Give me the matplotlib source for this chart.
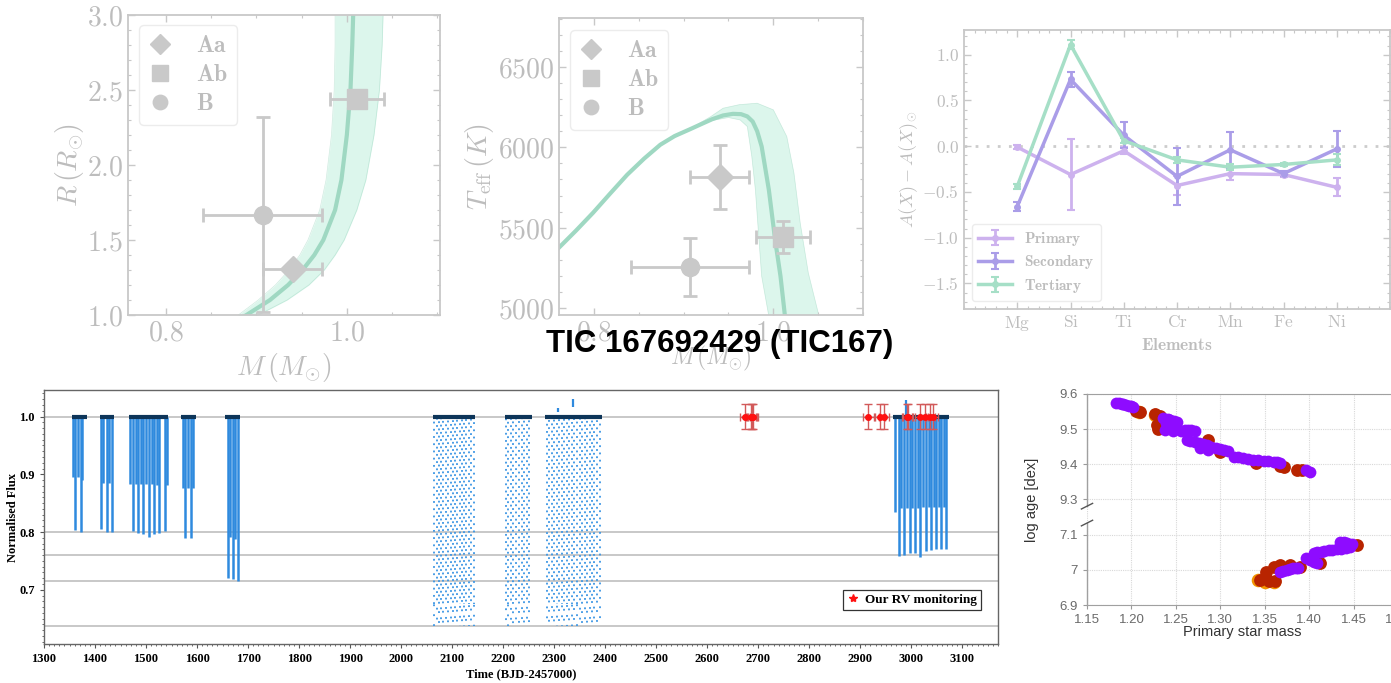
import numpy as np
import matplotlib
matplotlib.use("Agg")
import matplotlib.pyplot as plt
from matplotlib.lines import Line2D
from matplotlib.patches import Polygon
from matplotlib.ticker import FuncFormatter, MultipleLocator, AutoMinorLocator

plt.rcParams["mathtext.fontset"] = "cm"
plt.rcParams["font.family"] = "DejaVu Serif"

W, H = 1391, 683

COLORS = {
    "spine":  "#c8c8c8",
    "text":   "#bdbdbd",
    "marker": "#c9c9c9",
    "iso":    "#9fd8c2",
    "band":   "#dcf6ec",
    "prim":   "#cdb2ee",
    "sec":    "#aa9de8",
    "ter":    "#a6dfc7",
    "flux":   "#2f8ade",
    "dots":   "#3a95e4",
    "base":   "#0d3559",
    "rv":     "#ff1010",
    "rv_err": "#d25a5a",
    "purple": "#8e0cff",
    "red":    "#b82400",
    "orange": "#f29400",
}

# ---- components of the triple (mass, radius, Teff) ----
comp_labels = ["Aa", "Ab", "B"]
comp_markers = ["D", "s", "o"]
comp_msize = [13, 15, 13]
comp_mass = [0.940, 1.011, 0.907]
comp_mass_err = [0.033, 0.030, 0.066]
comp_radius = [1.31, 2.44, 1.67]
comp_radius_err = [0.0, 0.0, 0.65]
comp_teff = [5817, 5444, 5258]
comp_teff_err = [200, 100, 180]

# isochrone in the mass-radius plane: best fit and envelope
iso_r = [0.95, 1.0, 1.1, 1.2, 1.3, 1.4, 1.5, 1.7, 1.9, 2.2, 2.5, 2.8, 3.0]
iso_r_mass = [0.874, 0.889, 0.915, 0.935, 0.951, 0.964, 0.974, 0.987, 0.994, 1.000, 1.004, 1.006, 1.007]
iso_r_lo = [0.866, 0.880, 0.902, 0.921, 0.936, 0.948, 0.957, 0.970, 0.977, 0.983, 0.986, 0.987, 0.987]
iso_r_hi = [0.888, 0.902, 0.934, 0.958, 0.975, 0.987, 0.997, 1.011, 1.021, 1.030, 1.036, 1.039, 1.040]

# isochrone in the mass-Teff plane
iso_t_mass = [0.761, 0.780, 0.799, 0.818, 0.837, 0.856, 0.874, 0.890, 0.907, 0.920,
              0.932, 0.944, 0.955, 0.964, 0.971, 0.977, 0.982, 0.987, 0.995, 1.002, 1.008, 1.013]
iso_t_teff = [5376, 5482, 5593, 5712, 5829, 5930, 6016, 6070, 6112, 6145,
              6175, 6198, 6208, 6206, 6192, 6160, 6100, 6005, 5736, 5425, 5198, 4949]
iso_t_lo_mass = [0.761, 0.799, 0.837, 0.874, 0.907, 0.930, 0.950, 0.963, 0.971, 0.976, 0.980, 0.984, 0.987, 0.995]
iso_t_lo_teff = [5376, 5593, 5829, 6016, 6109, 6165, 6185, 6170, 6129, 5943, 5736, 5425, 5198, 4949]
iso_t_hi_mass = [0.761, 0.799, 0.837, 0.874, 0.907, 0.930, 0.944, 0.962, 0.982, 1.000, 1.015, 1.023, 1.030, 1.039, 1.051]
iso_t_hi_teff = [5376, 5593, 5829, 6016, 6115, 6190, 6243, 6265, 6274, 6233, 6067, 5840, 5529, 5219, 4949]

# ---- abundances relative to solar ----
elements = ["Mg", "Si", "Ti", "Cr", "Mn", "Fe", "Ni"]
ab_primary = [-0.01, -0.31, -0.05, -0.43, -0.30, -0.31, -0.45]
ab_primary_err = [0.02, 0.39, 0.04, 0.10, 0.07, 0.03, 0.10]
ab_secondary = [-0.66, 0.73, 0.12, -0.33, -0.04, -0.30, -0.03]
ab_secondary_err = [0.05, 0.08, 0.14, 0.31, 0.20, 0.03, 0.20]
ab_tertiary = [-0.44, 1.11, 0.06, -0.15, -0.23, -0.20, -0.15]
ab_tertiary_err = [0.03, 0.05, 0.03, 0.03, 0.03, 0.02, 0.06]

# ---- TESS light curve ----
seg_start = [1354, 1410, 1467, 1569, 1654, 2063, 2204, 2282, 2965]
seg_end = [1384, 1437, 1544, 1597, 1684, 2145, 2256, 2393, 3073]

# eclipses resolved in short cadence (time, minimum flux)
ecl_t = [1356.2, 1360.8, 1366.0, 1371.9, 1375.1,
         1411.8, 1416.3, 1422.9, 1428.0, 1433.3,
         1468.6, 1473.9, 1479.8, 1484.3, 1489.6, 1494.7, 1500.0, 1505.9,
         1511.2, 1515.7, 1521.0, 1525.5, 1536.6, 1540.5,
         1572.0, 1576.5, 1583.0, 1587.6, 1592.7,
         1660.0, 1664.7, 1670.0, 1674.5, 1679.8,
         2968.6, 2975.1, 2979.8, 2986.3, 2991.6, 2996.7, 3001.9, 3007.8, 3013.1, 3017.6,
         3022.9, 3028.8, 3033.9, 3038.6, 3043.7, 3048.4, 3053.5, 3058.8, 3063.3, 3068.0]
ecl_f = [0.895, 0.803, 0.895, 0.800, 0.890,
         0.806, 0.885, 0.800, 0.885, 0.800,
         0.883, 0.802, 0.883, 0.798, 0.883, 0.796, 0.883, 0.792,
         0.883, 0.796, 0.881, 0.798, 0.802, 0.881,
         0.876, 0.789, 0.876, 0.789, 0.876,
         0.721, 0.792, 0.718, 0.788, 0.715,
         0.835, 0.759, 0.842, 0.761, 0.842, 0.763, 0.842, 0.764, 0.842, 0.756,
         0.843, 0.767, 0.843, 0.768, 0.843, 0.770, 0.843, 0.770, 0.843, 0.771]

# eclipses sampled only sparsely (long cadence): columns of single points
dot_t = [2065, 2070, 2074, 2079, 2083, 2088, 2092, 2097, 2101, 2106, 2110, 2115,
         2119, 2124, 2128, 2133, 2137, 2142,
         2205.2, 2210.4, 2215.0, 2220.2, 2225.5, 2231.4, 2236.6, 2241.8, 2246.4, 2251.6,
         2285.6, 2290.8, 2295.4, 2300.0, 2305.2, 2309.8, 2315.0, 2319.6, 2324.8, 2329.4,
         2334.6, 2339.2, 2344.4, 2349.7, 2354.2, 2359.5, 2364.0, 2369.3, 2373.9, 2378.4,
         2383.7, 2388.9]
dot_dense_min = 0.675
dot_floor = 0.637

# isolated outliers above the baseline
spike_t = [2308, 2337, 2990]
spike_lo = [1.008, 1.017, 1.002]
spike_hi = [1.015, 1.031, 1.029]

# reference flux levels
flux_levels = [1.0, 0.8, 0.761, 0.716, 0.637]

# RV epochs
rv_t = [2674, 2686, 2688, 2690, 2916, 2938, 2947, 2991, 2994, 3018, 3027, 3037, 3042]
rv_f = [1.0] * len(rv_t)
rv_terr = 10
rv_ferr = 0.021

# ---- age solutions vs primary mass ----
pur_m = [1.183, 1.186, 1.189, 1.191, 1.194, 1.197, 1.200, 1.202,
         1.236, 1.241, 1.243, 1.248, 1.251, 1.239, 1.245, 1.238, 1.247, 1.256, 1.260,
         1.264, 1.267, 1.271,
         1.262, 1.266, 1.271, 1.276, 1.281, 1.285, 1.290, 1.295, 1.300, 1.304, 1.309,
         1.277, 1.286,
         1.315, 1.320, 1.326, 1.331, 1.337, 1.343, 1.349, 1.354, 1.360, 1.364, 1.367,
         1.397, 1.401,
         1.367, 1.371, 1.375, 1.378, 1.382, 1.385, 1.388,
         1.397, 1.401, 1.405, 1.409,
         1.405, 1.409, 1.413, 1.417, 1.422, 1.426, 1.431, 1.436, 1.441,
         1.435, 1.439, 1.443, 1.446, 1.448]
pur_age = [9.575, 9.574, 9.572, 9.571, 9.569, 9.567, 9.566, 9.562,
           9.531, 9.528, 9.526, 9.524, 9.521, 9.517, 9.507, 9.498, 9.496, 9.496, 9.497,
           9.498, 9.497, 9.496,
           9.469, 9.466, 9.464, 9.461, 9.458, 9.454, 9.450, 9.447, 9.443, 9.440, 9.438,
           9.446, 9.441,
           9.422, 9.420, 9.417, 9.414, 9.412, 9.411, 9.410, 9.409, 9.408, 9.406, 9.405,
           9.384, 9.379,
           6.995, 6.998, 7.000, 7.002, 7.004, 7.004, 7.004,
           7.033, 7.028, 7.023, 7.019,
           7.047, 7.050, 7.052, 7.054, 7.056, 7.057, 7.058, 7.060, 7.061,
           7.080, 7.079, 7.077, 7.066, 7.074]
red_m = [1.205, 1.210, 1.227, 1.232, 1.229, 1.234, 1.230, 1.286, 1.367, 1.372, 1.386, 1.392,
         1.352, 1.360, 1.367, 1.379, 1.390, 1.345, 1.355, 1.362, 1.412, 1.454, 1.300, 1.340]
red_age = [9.552, 9.548, 9.543, 9.537, 9.512, 9.502, 9.500, 9.468, 9.395, 9.392, 9.384, 9.384,
           6.995, 7.009, 7.014, 7.014, 7.009, 6.972, 6.967, 6.968, 7.020, 7.071, 9.436, 9.405]
org_m = [1.208, 1.226, 1.343, 1.350, 1.360, 1.233]
org_age = [9.550, 9.540, 6.971, 6.966, 6.966, 9.520]

age_ticks = [6.9, 7.0, 7.1, 9.3, 9.4, 9.5, 9.6]
age_tick_labels = ["6.9", "7", "7.1", "9.3", "9.4", "9.5", "9.6"]
AGE_SHIFT = 2.1   # old branch drawn just above the young one


def age_to_axis(a):
    a = np.asarray(a, float)
    return np.where(a > 8, a - AGE_SHIFT, a)


fig = plt.figure(figsize=(W / 100, H / 100), dpi=100)


def add_px_axes(left, top, right, bottom):
    return fig.add_axes([left / W, 1 - bottom / H, (right - left) / W, (bottom - top) / H])


def faint_frame(ax, size):
    for sp in ax.spines.values():
        sp.set_color(COLORS["spine"])
        sp.set_linewidth(1.3)
    ax.tick_params(which="both", direction="in", top=True, right=True,
                   color=COLORS["spine"], labelcolor=COLORS["text"], labelsize=size)
    ax.tick_params(which="major", length=5, width=1.0)
    ax.tick_params(which="minor", length=2.5, width=0.8)


def math_fmt(fmt):
    return FuncFormatter(lambda v, p: "$" + format(v, fmt) + "$")


def comp_legend(ax, anchor):
    handles = [Line2D([], [], marker=m, ls="none", color=COLORS["marker"], ms=s * 0.8)
               for m, s in zip(comp_markers, comp_msize)]
    labels = [r"$\mathbf{%s}$" % c for c in comp_labels]
    leg = ax.legend(handles, labels, loc="upper left", bbox_to_anchor=anchor,
                    borderaxespad=0, fontsize=17, labelspacing=0.25, handlelength=1.0,
                    handletextpad=1.0, borderpad=0.4, edgecolor="#ececec", framealpha=1)
    for t in leg.get_texts():
        t.set_color(COLORS["text"])
    return leg


# ============================================================
# Mass-radius diagram
ax1 = add_px_axes(128, 15, 440, 315)
ax1.fill_betweenx(iso_r, iso_r_lo, iso_r_hi, color=COLORS["band"], lw=0, zorder=1)
ax1.plot(iso_r_lo, iso_r, color=COLORS["iso"], lw=0.5, alpha=0.5, zorder=1)
ax1.plot(iso_r_hi, iso_r, color=COLORS["iso"], lw=0.5, alpha=0.5, zorder=1)
ax1.plot(iso_r_mass, iso_r, color=COLORS["iso"], lw=3, zorder=2)
for i in range(3):
    ax1.errorbar(comp_mass[i], comp_radius[i], xerr=comp_mass_err[i], yerr=comp_radius_err[i],
                 fmt=comp_markers[i], ms=comp_msize[i], color=COLORS["marker"],
                 ecolor=COLORS["marker"], elinewidth=2, capsize=5, capthick=2, zorder=3)
ax1.set_xlim(0.758, 1.103)
ax1.set_ylim(1.0, 3.0)
ax1.xaxis.set_major_locator(MultipleLocator(0.2))
ax1.xaxis.set_minor_locator(MultipleLocator(0.05))
ax1.yaxis.set_major_locator(MultipleLocator(0.5))
ax1.yaxis.set_minor_locator(MultipleLocator(0.1))
ax1.xaxis.set_major_formatter(math_fmt(".1f"))
ax1.yaxis.set_major_formatter(math_fmt(".1f"))
faint_frame(ax1, 20)
ax1.set_xlabel(r"$M\,(M_{\odot})$", fontsize=20, color=COLORS["text"])
ax1.set_ylabel(r"$R\,(R_{\odot})$", fontsize=20, color=COLORS["text"])
ax1.xaxis.set_label_coords(0.5, -0.175)
ax1.xaxis.label.set_va("center")
ax1.yaxis.set_label_coords(-0.186, 0.5)
ax1.yaxis.label.set_va("center")
comp_legend(ax1, (0.035, 0.967))

# ---- Mass-Teff diagram ----------------------------------------
ax2 = add_px_axes(559, 18, 863, 315)
band = Polygon(np.column_stack([iso_t_lo_mass + iso_t_hi_mass[::-1],
                                iso_t_lo_teff + iso_t_hi_teff[::-1]]),
               closed=True, facecolor=COLORS["band"], edgecolor="none", zorder=1)
ax2.add_patch(band)
ax2.plot(iso_t_lo_mass, iso_t_lo_teff, color=COLORS["iso"], lw=0.5, alpha=0.5, zorder=1)
ax2.plot(iso_t_hi_mass, iso_t_hi_teff, color=COLORS["iso"], lw=0.5, alpha=0.5, zorder=1)
ax2.plot(iso_t_mass, iso_t_teff, color=COLORS["iso"], lw=3, zorder=2)
for i in range(3):
    ax2.errorbar(comp_mass[i], comp_teff[i], xerr=comp_mass_err[i], yerr=comp_teff_err[i],
                 fmt=comp_markers[i], ms=comp_msize[i], color=COLORS["marker"],
                 ecolor=COLORS["marker"], elinewidth=2, capsize=5, capthick=2, zorder=3)
ax2.set_xlim(0.761, 1.10)
ax2.set_ylim(4957, 6804)
ax2.xaxis.set_major_locator(MultipleLocator(0.2))
ax2.xaxis.set_minor_locator(MultipleLocator(0.05))
ax2.yaxis.set_major_locator(MultipleLocator(500))
ax2.yaxis.set_minor_locator(MultipleLocator(100))
ax2.xaxis.set_major_formatter(math_fmt(".1f"))
ax2.yaxis.set_major_formatter(math_fmt(".0f"))
faint_frame(ax2, 20)
ax2.set_xlabel(r"$M\,(M_{\odot})$", fontsize=17, color=COLORS["text"])
ax2.set_ylabel(r"$T_{\rm eff}\,(K)$", fontsize=20, color=COLORS["text"])
ax2.xaxis.set_label_coords(0.5, -0.145)
ax2.xaxis.label.set_va("center")
ax2.yaxis.set_label_coords(-0.26, 0.5)
ax2.yaxis.label.set_va("center")
comp_legend(ax2, (0.036, 0.96))

# ---- Abundance pattern ----------------------------------------
ax3 = add_px_axes(964, 30, 1390, 309)
xe = np.arange(len(elements))
ax3.axhline(0, color="#cccccc", ls=(0, (1, 3)), lw=2, zorder=1)
for vals, errs, key, lab in [(ab_primary, ab_primary_err, "prim", "Primary"),
                             (ab_secondary, ab_secondary_err, "sec", "Secondary"),
                             (ab_tertiary, ab_tertiary_err, "ter", "Tertiary")]:
    ax3.errorbar(xe, vals, yerr=errs, color=COLORS[key], lw=2.5, marker="o", ms=4,
                 elinewidth=2, capsize=3, capthick=1.5, label=r"$\mathbf{%s}$" % lab, zorder=2)
ax3.set_xlim(-1, 7)
ax3.set_ylim(-1.78, 1.27)
ax3.set_xticks(xe)
ax3.set_xticklabels([r"$\mathrm{%s}$" % e for e in elements])
ax3.xaxis.set_minor_locator(AutoMinorLocator(5))
ax3.yaxis.set_major_locator(MultipleLocator(0.5))
ax3.yaxis.set_minor_locator(MultipleLocator(0.1))
ax3.yaxis.set_major_formatter(math_fmt(".1f"))
faint_frame(ax3, 12.5)
ax3.set_xlabel(r"$\mathbf{Elements}$", fontsize=12.5, color=COLORS["text"])
ax3.set_ylabel(r"$A(X)-A(X)_{\odot}$", fontsize=13, color=COLORS["text"])
ax3.xaxis.set_label_coords(0.5, -0.13)
ax3.xaxis.label.set_va("center")
ax3.yaxis.set_label_coords(-0.131, 0.5)
ax3.yaxis.label.set_va("center")
leg3 = ax3.legend(loc="lower left", bbox_to_anchor=(0.019, 0.029), borderaxespad=0,
                  fontsize=11, labelspacing=0.35, handlelength=2.2, edgecolor="#ececec",
                  framealpha=1)
for t in leg3.get_texts():
    t.set_color(COLORS["text"])

fig.text(720 / W, 1 - 352 / H, "TIC 167692429 (TIC167)", ha="center", va="baseline",
         fontsize=22.5, fontweight="bold", family="Liberation Sans", color="black", zorder=10)

# ---- Light curve + RV epochs ----------------------------------
ax4 = add_px_axes(44, 390, 998, 644)
bold_serif = {"family": "Liberation Serif", "weight": "bold"}
ax4.hlines(flux_levels, 1300, 3170, color="#b9b9b9", lw=1.1, zorder=1)
ax4.vlines(ecl_t, ecl_f, 1.0, color=COLORS["flux"], lw=1.8, zorder=2)
# staggered dash phases so the sparse columns look like scattered points
phase = [(k * 1.9) % 4.0 for k in range(len(dot_t))]
ax4.vlines(dot_t, dot_dense_min, 1.0, color=COLORS["dots"], lw=1.3,
           linestyles=[(p, (1.0, 3.0)) for p in phase], zorder=2)
ax4.vlines(dot_t, dot_floor, dot_dense_min, color=COLORS["dots"], lw=1.3,
           linestyles=[(p, (1.0, 4.5)) for p in phase], zorder=2)
ax4.vlines(spike_t, spike_lo, spike_hi, color=COLORS["flux"], lw=1.6, zorder=2)
ax4.hlines([1.0] * len(seg_start), seg_start, seg_end, color=COLORS["base"], lw=3, zorder=3)
ax4.errorbar(rv_t, rv_f, xerr=rv_terr, yerr=rv_ferr, fmt="o", ms=4, color=COLORS["rv"],
             ecolor=COLORS["rv_err"], elinewidth=1, capsize=3, capthick=1, zorder=4)
ax4.set_xlim(1300, 3170)
ax4.set_ylim(0.606, 1.046)
ax4.xaxis.set_major_locator(MultipleLocator(100))
ax4.xaxis.set_minor_locator(MultipleLocator(10))
ax4.yaxis.set_major_locator(MultipleLocator(0.1))
ax4.yaxis.set_minor_locator(MultipleLocator(0.01))
ax4.yaxis.set_major_formatter(FuncFormatter(lambda v, p: f"{v:.1f}"))
ax4.tick_params(which="major", length=3, width=0.8, color="#555555", labelsize=9)
ax4.tick_params(which="minor", length=1.5, width=0.6, color="#555555")
for lab in ax4.get_xticklabels() + ax4.get_yticklabels():
    lab.set_fontproperties(bold_serif)
    lab.set_fontsize(9)
for sp in ax4.spines.values():
    sp.set_color("#666666")
    sp.set_linewidth(1.0)
ax4.set_xlabel("Time (BJD-2457000)", fontsize=9, **bold_serif)
ax4.set_ylabel("Normalised Flux", fontsize=9, **bold_serif)
ax4.xaxis.set_label_coords(0.5, -(674 - 644) / 254)
ax4.xaxis.label.set_va("center")
ax4.yaxis.set_label_coords(-(44 - 13) / 954, 0.5)
ax4.yaxis.label.set_va("center")
rv_handle = Line2D([], [], marker="*", ls="none", color=COLORS["rv"], ms=6)
leg4 = ax4.legend([rv_handle], ["Our RV monitoring"], loc="lower right",
                  bbox_to_anchor=(0.982, 0.134), borderaxespad=0, fancybox=False,
                  edgecolor="#333333", framealpha=1, handlelength=1.0, handletextpad=0.4,
                  borderpad=0.3, prop={"family": "Liberation Serif", "weight": "bold", "size": 9.5})
leg4.get_frame().set_linewidth(0.9)

# ---- Age vs primary mass (broken axis) ------------------------
ax5 = add_px_axes(1087, 394, 1398, 605)
ax5.scatter(org_m, age_to_axis(org_age), s=95, color=COLORS["orange"], lw=0, zorder=2)
ax5.scatter(red_m, age_to_axis(red_age), s=85, color=COLORS["red"], lw=0, zorder=3)
ax5.scatter(pur_m, age_to_axis(pur_age), s=72, color=COLORS["purple"], lw=0, zorder=4)
ax5.set_xlim(1.15, 1.50)
ax5.set_ylim(6.9, 7.5)
ax5.set_xticks([1.15, 1.20, 1.25, 1.30, 1.35, 1.40, 1.45, 1.50])
ax5.xaxis.set_major_formatter(FuncFormatter(lambda v, p: f"{v:.2f}"))
ax5.set_yticks(age_to_axis(age_ticks))
ax5.set_yticklabels(age_tick_labels)
ax5.grid(True, color="#d8d8d8", lw=0.8, ls=(0, (1, 1)))
ax5.set_axisbelow(True)
ax5.tick_params(length=3, color="#9a9a9a", labelcolor="#6a6a6a", labelsize=9.5)
for lab in ax5.get_xticklabels() + ax5.get_yticklabels():
    lab.set_family("Liberation Sans")
for side in ["right", "left"]:
    ax5.spines[side].set_visible(False)
for side in ["top", "bottom"]:
    ax5.spines[side].set_color("#a0a0a0")
# left spine drawn in two pieces with break marks
brk_lo, brk_hi = 7.133, 7.181
ytr = ax5.get_yaxis_transform()
ax5.plot([0, 0], [6.9, brk_lo], color="#a0a0a0", lw=1, transform=ytr, clip_on=False)
ax5.plot([0, 0], [brk_hi, 7.5], color="#a0a0a0", lw=1, transform=ytr, clip_on=False)
for yb in (brk_lo, brk_hi):
    ax5.plot([-0.018, 0.018], [yb - 0.008, yb + 0.008], color="#555555", lw=1,
             transform=ytr, clip_on=False)
ax5.set_xlabel("Primary star mass", fontsize=10.5, family="Liberation Sans", color="#333333")
ax5.set_ylabel("log age [dex]", fontsize=10.5, family="Liberation Sans", color="#333333")
ax5.xaxis.set_label_coords(0.5, -(632 - 605) / 211)
ax5.xaxis.label.set_va("center")
ax5.yaxis.set_label_coords(-(1087 - 1032) / 311, 0.5)
ax5.yaxis.label.set_va("center")

fig.savefig("out.png", dpi=100)
